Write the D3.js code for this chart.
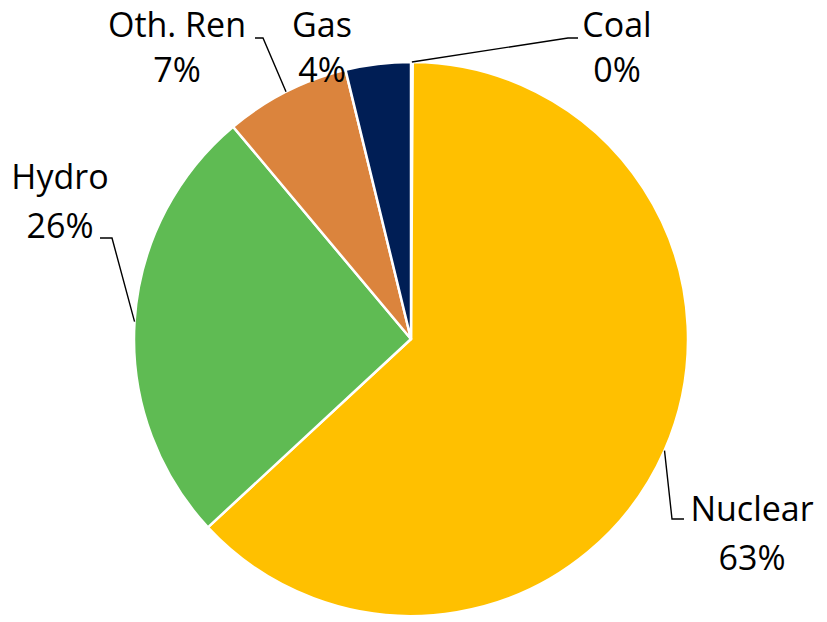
<!DOCTYPE html>
<html>
<head>
<meta charset="utf-8">
<script src="https://cdn.jsdelivr.net/npm/d3@7"></script>
<style>
  html, body { margin: 0; padding: 0; background: #fff; }
  svg { display: block; }
  text { font-family: "Open Sans", "Noto Sans", sans-serif; fill: #000; }
</style>
</head>
<body>
<svg id="chart" width="827" height="622"></svg>
<script>
// Generation mix by source (% share)
const categories = ["Coal", "Nuclear", "Hydro", "Oth. Ren", "Gas"];
const shares = [0.1, 63.0, 25.8, 7.3, 3.8];
const colors = ["#7F7F7F", "#FFC000", "#5FBB53", "#DB843D", "#001E55"];

// Label placement: text centre x, baselines of the two lines, leader bend points (null = no leader)
const labelLayout = {
  "Coal":     { x: 617, y1: 37,  y2: 82,  elbow: [[568, 38], [578, 38]] },
  "Nuclear":  { x: 752, y1: 521, y2: 570, elbow: [[672, 519], [684, 519]] },
  "Hydro":    { x: 60,  y1: 189, y2: 238, elbow: [[112, 238], [100, 238]] },
  "Oth. Ren": { x: 177, y1: 37,  y2: 82,  elbow: [[263, 38], [255, 38]] },
  "Gas":      { x: 322, y1: 37,  y2: 82,  elbow: null }
};

const cx = 411, cy = 339, radius = 277;
const fontSize = 34;

const data = categories.map((c, i) => ({ name: c, value: shares[i], color: colors[i] }));

const pie = d3.pie().value(d => d.value).sort(null);
const arcs = pie(data);
const arc = d3.arc().innerRadius(0).outerRadius(radius);

const svg = d3.select("#chart");
const g = svg.append("g").attr("transform", `translate(${cx},${cy})`);

g.selectAll("path.slice")
  .data(arcs)
  .join("path")
  .attr("class", "slice")
  .attr("d", arc)
  .attr("fill", d => d.data.color)
  .attr("stroke", "#fff")
  .attr("stroke-width", 2.5)
  .attr("stroke-linejoin", "round");

// Leader lines from the slice's outer edge midpoint to its label
const edgePoint = d => {
  const a = (d.startAngle + d.endAngle) / 2;
  return [cx + radius * Math.sin(a), cy - radius * Math.cos(a)];
};

arcs.forEach(d => {
  const lay = labelLayout[d.data.name];
  if (!lay.elbow) return;
  const pts = [edgePoint(d), ...lay.elbow];
  svg.append("path")
    .attr("d", d3.line()(pts))
    .attr("fill", "none")
    .attr("stroke", "#000")
    .attr("stroke-width", 1.4);
});

// Labels: category name and rounded share
const fmt = v => Math.round(v) + "%";
arcs.forEach(d => {
  const lay = labelLayout[d.data.name];
  const t = svg.append("text")
    .attr("text-anchor", "middle")
    .attr("font-size", fontSize);
  t.append("tspan").attr("x", lay.x).attr("y", lay.y1).text(d.data.name);
  t.append("tspan").attr("x", lay.x).attr("y", lay.y2).text(fmt(d.data.value));
});
</script>
</body>
</html>
